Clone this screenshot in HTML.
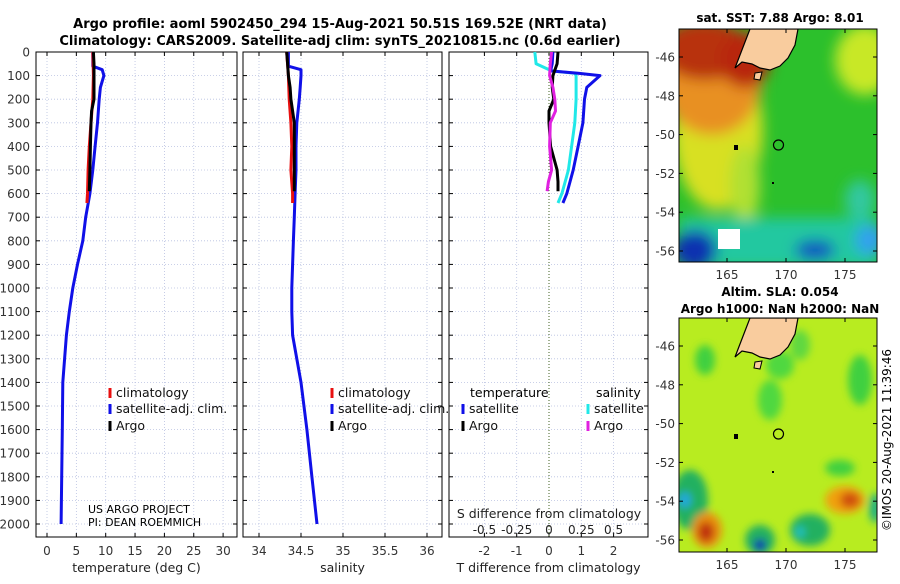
<!DOCTYPE html>
<html><head><meta charset="utf-8">
<style>
body{margin:0;background:#fff;width:900px;height:580px;overflow:hidden;font-family:"DejaVu Sans","Liberation Sans",sans-serif}
svg text{font-family:"DejaVu Sans","Liberation Sans",sans-serif}
</style></head><body>
<svg id="c" width="900" height="580" xmlns="http://www.w3.org/2000/svg">
<defs>
<filter id="bl" x="-50%" y="-50%" width="200%" height="200%"><feGaussianBlur stdDeviation="7"/></filter>
<filter id="bl2" x="-50%" y="-50%" width="200%" height="200%"><feGaussianBlur stdDeviation="4"/></filter>
<clipPath id="cm1"><rect x="679" y="29" width="198" height="233"/></clipPath>
<clipPath id="cm2"><rect x="679" y="318" width="198" height="234"/></clipPath>
</defs>
<text x="340" y="28" font-size="13" font-weight="bold" text-anchor="middle">Argo profile: aoml 5902450_294 15-Aug-2021 50.51S 169.52E (NRT data)</text>
<text x="340" y="45" font-size="13" font-weight="bold" text-anchor="middle">Climatology: CARS2009. Satellite-adj clim: synTS_20210815.nc (0.6d earlier)</text>
<g id="plots"></g>
<!-- top map -->
<g clip-path="url(#cm1)">
<rect x="679" y="29" width="198" height="233" fill="#2cc02c"/>
<g filter="url(#bl)">
<ellipse cx="718" cy="130" rx="45" ry="80" fill="#d8e020"/>
<ellipse cx="865" cy="60" rx="30" ry="35" fill="#c8e828"/>
<ellipse cx="712" cy="80" rx="50" ry="55" fill="#e89020"/>
<ellipse cx="705" cy="50" rx="45" ry="30" fill="#b83008"/>
<ellipse cx="745" cy="60" rx="25" ry="28" fill="#b82808"/>
<ellipse cx="745" cy="185" rx="15" ry="40" fill="#b0e030"/>
<ellipse cx="860" cy="200" rx="15" ry="20" fill="#30c8a0"/>
<rect x="679" y="218" width="198" height="50" fill="#20c8a0"/>
<ellipse cx="695" cy="250" rx="22" ry="20" fill="#0830b0"/>
<ellipse cx="815" cy="250" rx="20" ry="10" fill="#1050c0"/>
<ellipse cx="870" cy="240" rx="15" ry="15" fill="#30a0f0"/>
</g>
<rect x="718" y="229" width="22" height="20" fill="#fff"/>
<polygon points="750,29 798,29 795,45 788,58 780,66 770,70 760,68 752,64 742,62 735,68 740,55 745,42" fill="#f9cc9e" stroke="#000" stroke-width="1.2"/>
<polygon points="755,73 762,72 760,80 754,79" fill="#f9cc9e" stroke="#000" stroke-width="1"/>
<circle cx="778.5" cy="145" r="5" fill="none" stroke="#000" stroke-width="1.2"/>
<rect x="734" y="145" width="4" height="5" fill="#000"/>
<rect x="772" y="182" width="2" height="2" fill="#000"/>
</g>
<rect x="679" y="29" width="198" height="233" fill="none" stroke="#000"/>
<text x="780" y="22" font-size="12" font-weight="bold" text-anchor="middle">sat. SST: 7.88 Argo: 8.01</text>
<!-- bottom map -->
<g clip-path="url(#cm2)">
<rect x="679" y="318" width="198" height="234" fill="#b8ec20"/>
<g filter="url(#bl2)">
<ellipse cx="705" cy="360" rx="10" ry="15" fill="#40d040"/>
<ellipse cx="770" cy="400" rx="12" ry="20" fill="#50d840"/>
<ellipse cx="860" cy="380" rx="12" ry="25" fill="#40d040"/>
<ellipse cx="800" cy="345" rx="10" ry="15" fill="#60d840"/>
<ellipse cx="780" cy="365" rx="14" ry="14" fill="#50d840"/>
<ellipse cx="690" cy="500" rx="18" ry="30" fill="#20b060"/>
<ellipse cx="685" cy="500" rx="6" ry="8" fill="#20a8e0"/>
<ellipse cx="707" cy="530" rx="15" ry="18" fill="#e89010"/>
<ellipse cx="706" cy="532" rx="8" ry="10" fill="#c03010"/>
<ellipse cx="760" cy="540" rx="15" ry="15" fill="#20b060"/>
<ellipse cx="760" cy="545" rx="6" ry="6" fill="#1020b0"/>
<ellipse cx="810" cy="530" rx="20" ry="16" fill="#20b060"/>
<ellipse cx="800" cy="532" rx="5" ry="6" fill="#20c0c0"/>
<ellipse cx="845" cy="500" rx="20" ry="14" fill="#f0a010"/>
<ellipse cx="850" cy="500" rx="10" ry="8" fill="#d05010"/>
<ellipse cx="840" cy="468" rx="15" ry="8" fill="#40d040"/>
<ellipse cx="875" cy="508" rx="6" ry="15" fill="#20b080"/>
</g>
<polygon points="750,318 798,318 795,334 788,347 780,355 770,359 760,357 752,353 742,351 735,357 740,344 745,331" fill="#f9cc9e" stroke="#000" stroke-width="1.2"/>
<polygon points="755,362 762,361 760,369 754,368" fill="#f9cc9e" stroke="#000" stroke-width="1"/>
<circle cx="778.5" cy="434" r="5" fill="none" stroke="#000" stroke-width="1.2"/>
<rect x="734" y="434" width="4" height="5" fill="#000"/>
<rect x="772" y="471" width="2" height="2" fill="#000"/>
</g>
<rect x="679" y="318" width="198" height="234" fill="none" stroke="#000"/>
<text x="780" y="296" font-size="12" font-weight="bold" text-anchor="middle">Altim. SLA: 0.054</text>
<text x="780" y="313" font-size="12" font-weight="bold" text-anchor="middle">Argo h1000: NaN h2000: NaN</text>
<text transform="translate(891,440) rotate(-90)" font-size="12" text-anchor="middle">©IMOS 20-Aug-2021 11:39:46</text>
<g id="maptk"></g>
</svg>
<script>
// ---- data ----
const depthTicks=[0,100,200,300,400,500,600,700,800,900,1000,1100,1200,1300,1400,1500,1600,1700,1800,1900,2000];
const tTicks=[0,5,10,15,20,25,30];
const sTicks=[34,34.5,35,35.5,36];
const tdTicks=[-2,-1,0,1,2];
const sdTicks=[-0.5,-0.25,0,0.25,0.5];
const sdTickLabels=["-0.5","-0.25","0","0.25","0.5"];
const climD=[0,100,200,300,400,500,600,640];
const climT=[7.8,7.9,7.8,7.5,7.2,7.0,6.9,6.8];
const climS=[34.33,34.35,34.36,34.38,34.39,34.38,34.4,34.4];
const satD=[0,60,75,100,150,200,300,400,500,600,700,800,900,1000,1100,1200,1300,1400,1600,1800,2000];
const satT=[7.8,7.8,9.4,9.7,9.1,8.9,8.6,8.2,7.8,7.3,6.6,6.1,5.2,4.4,3.8,3.3,3.0,2.7,2.6,2.5,2.4];
const satS=[34.35,34.35,34.5,34.5,34.49,34.48,34.45,34.44,34.44,34.43,34.42,34.41,34.4,34.39,34.39,34.4,34.45,34.5,34.57,34.63,34.69];
const argoD=[0,50,100,150,200,250,300,400,500,590];
const argoT=[7.9,8.0,8.0,8.0,8.0,7.6,7.5,7.4,7.3,7.2];
const argoS=[34.33,34.34,34.35,34.37,34.38,34.4,34.42,34.42,34.42,34.42];
const dD=[0,50,80,90,100,150,200,300,400,500,600,640];
const dTsat=[0.12,0.1,0.05,0.9,1.58,1.17,1.1,1.05,0.9,0.75,0.55,0.43];
const dSsat=[-0.11,-0.1,0.02,0.2,0.21,0.21,0.21,0.2,0.175,0.15,0.1,0.07];
const dArgoD=[0,50,100,150,200,250,300,400,500,550,590];
const dTargo=[0.28,0.25,0.12,0.1,0.15,0,0,0.05,0.25,0.28,0.28];
const dSargo=[0.02,0.01,0.005,0.03,0.045,0.05,0.01,0.005,0.02,-0.005,-0.015];
// ---- drawing ----
const NS="http://www.w3.org/2000/svg";
const root=document.getElementById('plots');
function mk(tag,attrs,parent){const e=document.createElementNS(NS,tag);for(const k in attrs)e.setAttribute(k,attrs[k]);(parent||root).appendChild(e);return e;}
const yTop=52,yBot=537;
function yD(d){return 52+d*0.236;}
const panels=[
 {x0:36,x1:237,xs:v=>47+v*5.87,ticks:tTicks,labels:tTicks.map(String),title:"temperature (deg C)",name:"temperature"},
 {x0:243,x1:442,xs:v=>259+(v-34)*84,ticks:sTicks,labels:["34","34.5","35","35.5","36"],title:"salinity",name:"salinity"},
 {x0:449,x1:648,xs:v=>549+v*32.3,ticks:tdTicks,labels:tdTicks.map(String),title:"T difference from climatology",name:"difference"}
];
function line(xs,ys,xf,color,name,w){
  let p="";for(let i=0;i<xs.length;i++)p+=(i?"L":"M")+xf(xs[i]).toFixed(1)+","+yD(ys[i]).toFixed(1);
  const e=mk('path',{d:p,fill:"none",stroke:color,"stroke-width":w||3,"stroke-linejoin":"round"});
  
  
}
panels.forEach((P,pi)=>{
  const g=mk('g',{});
  
  
  depthTicks.forEach(d=>{mk('line',{x1:P.x0,x2:P.x1,y1:yD(d),y2:yD(d),stroke:"#b8c0e0","stroke-width":0.8,"stroke-dasharray":"1,2"},g);});
  P.ticks.forEach(t=>{const x=P.xs(t);mk('line',{x1:x,x2:x,y1:yTop,y2:yBot,stroke:"#b8c0e0","stroke-width":0.8,"stroke-dasharray":"1,2"},g);
    mk('line',{x1:x,x2:x,y1:yBot,y2:yBot-4,stroke:"#000"},g);mk('line',{x1:x,x2:x,y1:yTop,y2:yTop+4,stroke:"#000"},g);});
  mk('rect',{x:P.x0,y:yTop,width:P.x1-P.x0,height:yBot-yTop,fill:"none",stroke:"#000","stroke-width":1},g);
  P.ticks.forEach((t,i)=>{const e=mk('text',{x:P.xs(t),y:555,"font-size":12,"text-anchor":"middle",fill:"#333"},g);e.textContent=P.labels[i];
    
    });
  const xt=mk('text',{x:(P.x0+P.x1)/2,y:572,"font-size":12.5,"text-anchor":"middle",fill:"#222"},g);xt.textContent=P.title;
  
  
  depthTicks.forEach(d=>{mk('line',{x1:P.x0,x2:P.x0+4,y1:yD(d),y2:yD(d),stroke:"#000"},g);mk('line',{x1:P.x1,x2:P.x1-4,y1:yD(d),y2:yD(d),stroke:"#000"},g);});
});
depthTicks.forEach(d=>{const e=mk('text',{x:30,y:yD(d)+4.5,"font-size":12,"text-anchor":"end",fill:"#333"});e.textContent=d;
  
  });
// panel 1
line(satT,satD,panels[0].xs,"#1010e8","temp-satellite-clim-line");
line(climT,climD,panels[0].xs,"#e81010","temp-climatology-line");
line(argoT,argoD,panels[0].xs,"#000","temp-argo-line");
// panel 2
line(satS,satD,panels[1].xs,"#1010e8","salinity-satellite-clim-line");
line(climS,climD,panels[1].xs,"#e81010","salinity-climatology-line");
line(argoS,argoD,panels[1].xs,"#000","salinity-argo-line");
// panel 3
const zl=mk('line',{x1:549,x2:549,y1:yTop,y2:yBot,stroke:"#406020","stroke-width":1,"stroke-dasharray":"1,2"});


const sdx=v=>549+v*129.2;
line(dSsat,dD,sdx,"#20e8e8","s-diff-satellite-line");
line(dTsat,dD,panels[2].xs,"#1010e8","t-diff-satellite-line");
line(dTargo,dArgoD,panels[2].xs,"#000","t-diff-argo-line");
line(dSargo,dArgoD,sdx,"#e020e0","s-diff-argo-line");
sdTicks.forEach((t,i)=>{const e=mk('text',{x:sdx(t),y:534,"font-size":12,"text-anchor":"middle",fill:"#222"});e.textContent=sdTickLabels[i];
  
  });
const st=mk('text',{x:549,y:518,"font-size":12.5,"text-anchor":"middle",fill:"#222"});st.textContent="S difference from climatology";


// legends
function leg(x,y,color,label,name){
  const g=mk('g',{});
  
  
  mk('line',{x1:x,x2:x,y1:y-9,y2:y+1,stroke:color,"stroke-width":3},g);
  const t=mk('text',{x:x+6,y:y,"font-size":12.5,fill:"#111"},g);t.textContent=label;
}
leg(110,397,"#e81010","climatology","legend-climatology");
leg(110,413,"#1010e8","satellite-adj. clim.","legend-satellite-clim");
leg(110,430,"#000","Argo","legend-argo");
leg(332,397,"#e81010","climatology","legend-climatology-s");
leg(332,413,"#1010e8","satellite-adj. clim.","legend-satellite-clim-s");
leg(332,430,"#000","Argo","legend-argo-s");
const h1=mk('text',{x:470,y:397,"font-size":12.5});h1.textContent="temperature";


const h2=mk('text',{x:596,y:397,"font-size":12.5});h2.textContent="salinity";


leg(463,413,"#1010e8","satellite","legend-t-satellite");
leg(463,430,"#000","Argo","legend-t-argo");
leg(588,413,"#20e8e8","satellite","legend-s-satellite");
leg(588,430,"#e020e0","Argo","legend-s-argo");
const p1=mk('text',{x:88,y:513,"font-size":11});p1.textContent="US ARGO PROJECT";


const p2=mk('text',{x:88,y:526,"font-size":11});p2.textContent="PI: DEAN ROEMMICH";


// map ticks
const mt=document.getElementById('maptk');
const lonT=[165,170,175];const latT=[-46,-48,-50,-52,-54,-56];
[[29,262,57],[318,552,346]].forEach(([t,b,l46])=>{
  lonT.forEach(lo=>{const x=727+(lo-165)*11.8;
    mk('line',{x1:x,x2:x,y1:b,y2:b-4,stroke:"#000"},mt);mk('line',{x1:x,x2:x,y1:t,y2:t+4,stroke:"#000"},mt);
    const e=mk('text',{x:x,y:b+17,"font-size":12,"text-anchor":"middle",fill:"#333"},mt);e.textContent=lo;
    
    });
  latT.forEach(la=>{const y=l46+(-46-la)*19.4;
    mk('line',{x1:679,x2:683,y1:y,y2:y,stroke:"#000"},mt);mk('line',{x1:877,x2:873,y1:y,y2:y,stroke:"#000"},mt);
    const e=mk('text',{x:675,y:y+4.5,"font-size":12,"text-anchor":"end",fill:"#333"},mt);e.textContent=la;
    
    });
});
</script>
</body></html>
